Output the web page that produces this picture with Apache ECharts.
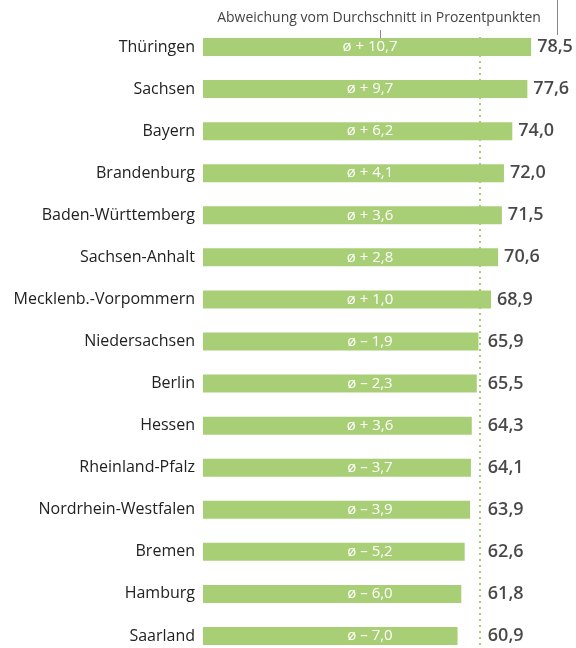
<!DOCTYPE html>
<html>
<head>
<meta charset="utf-8">
<script src="https://cdn.jsdelivr.net/npm/echarts@6/dist/echarts.min.js"></script>
<style>
html,body{margin:0;padding:0;background:#fff;}
#c{width:576px;height:648px;}
</style>
</head>
<body>
<div id="c"></div>
<script>
const categories = ['Thüringen','Sachsen','Bayern','Brandenburg','Baden-Württemberg','Sachsen-Anhalt','Mecklenb.-Vorpommern','Niedersachsen','Berlin','Hessen','Rheinland-Pfalz','Nordrhein-Westfalen','Bremen','Hamburg','Saarland'];
const values = [78.5,77.6,74.0,72.0,71.5,70.6,68.9,65.9,65.5,64.3,64.1,63.9,62.6,61.8,60.9];
const deviations = ['ø + 10,7','ø + 9,7','ø + 6,2','ø + 4,1','ø + 3,6','ø + 2,8','ø + 1,0','ø – 1,9','ø – 2,3','ø + 3,6','ø – 3,7','ø – 3,9','ø – 5,2','ø – 6,0','ø – 7,0'];
const averageLine = 66.3;
const headerText = 'Abweichung vom Durchschnitt in Prozentpunkten';

const FONT = 'Open Sans';
const GREEN = '#a9cf76';

const chart = echarts.init(document.getElementById('c'), null, {renderer:'canvas'});
const fmt = v => v.toFixed(1).replace('.', ',');

chart.setOption({
  animation:false,
  backgroundColor:'#fff',
  grid:{left:203, top:26, width:88*4.18, height:631, outerBoundsMode:'none', containLabel:false},
  xAxis:{type:'value', min:0, max:88, show:false},
  yAxis:{type:'category', data:categories, inverse:true,
    axisLine:{show:false}, axisTick:{show:false}, splitLine:{show:false},
    axisLabel:{margin:8, fontFamily:FONT, fontSize:16, color:'#222'}},
  series:[
    {type:'bar', data:values, barWidth:18, z:3,
      itemStyle:{color:GREEN},
      label:{show:true, position:[167,'50%'], align:'center', verticalAlign:'middle',
        fontFamily:FONT, fontSize:15, color:'#fff',
        formatter:p => deviations[p.dataIndex]},
      markLine:{silent:true, symbol:['none','none'], z:1,
        lineStyle:{color:GREEN, type:[2,4], width:2},
        label:{show:false},
        data:[[{xAxis:averageLine, y:37},{xAxis:averageLine, y:648}]]}
    },
    {type:'scatter', symbolSize:0, z:4,
      data:values.map(v => Math.max(v, averageLine + 0.4)),
      label:{show:true, position:'right', distance:6,
        fontFamily:FONT, fontSize:18, fontWeight:600, color:'#1a1a1a',
        formatter:p => fmt(values[p.dataIndex])}
    }
  ],
  graphic:[
    {type:'text', style:{text:headerText, x:379, y:18, align:'center', verticalAlign:'middle', fontFamily:FONT, fontSize:14, fill:'#444'}},
    {type:'line', shape:{x1:380.5, y1:30, x2:380.5, y2:39}, style:{stroke:'#888', lineWidth:1}},
    {type:'line', shape:{x1:557.5, y1:0, x2:557.5, y2:35}, style:{stroke:'#888', lineWidth:1}}
  ]
});
</script>
</body>
</html>
